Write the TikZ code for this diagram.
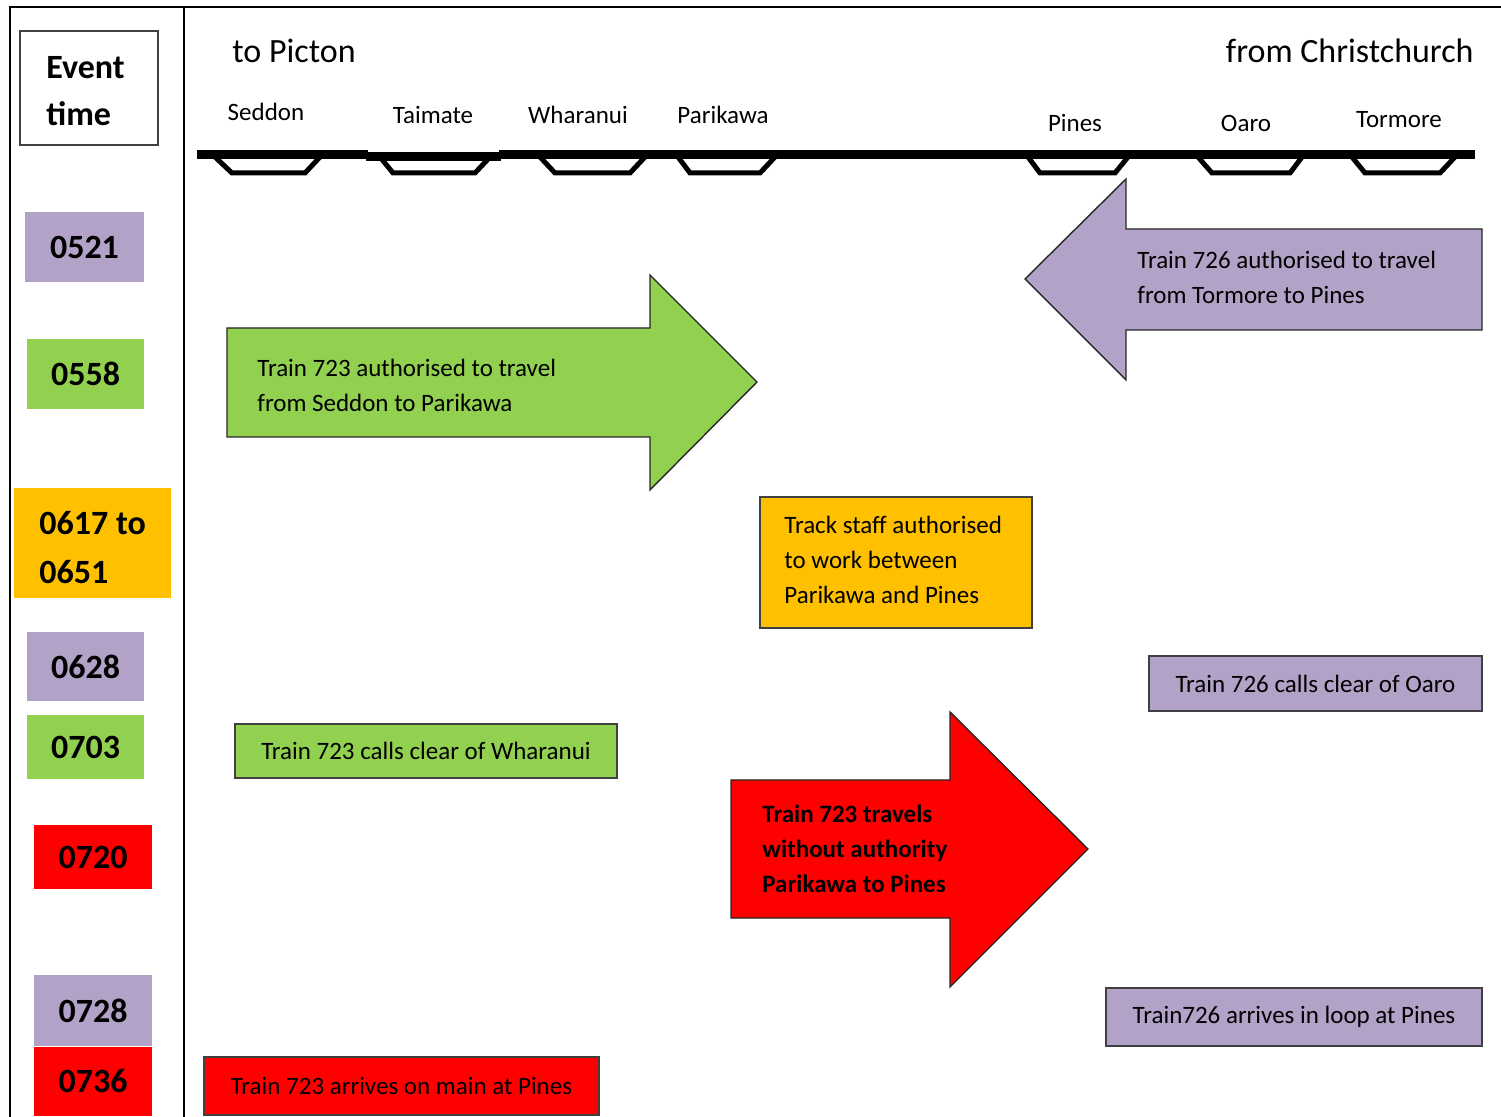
\documentclass[tikz,border=0pt]{standalone}
\usepackage{fontspec}
\setmainfont{Carlito}
\usetikzlibrary{positioning}
\definecolor{lav}{HTML}{B3A2C7}
\definecolor{grn}{HTML}{92D050}
\definecolor{amb}{HTML}{FFC000}
\definecolor{rd}{HTML}{FF0000}
\begin{document}
\begin{tikzpicture}[x=0.5pt, y=-0.5pt,
  tbox/.style = {inner sep=0pt, font=\fontsize{17}{24}\selectfont\bfseries},
  ebox/.style = {draw=black!75, line width=0.7pt, inner sep=0pt, font=\fontsize{12.5}{17.5}\selectfont},
  txt/.style = {anchor=west, align=flush left, inner sep=0pt, font=\fontsize{12.5}{17.5}\selectfont},
  station/.style = {font=\fontsize{12.5}{15}\selectfont, inner sep=0pt},
  arrowshape/.style = {draw=black!85, line width=0.7pt, line join=miter}]
\useasboundingbox (0,0) rectangle (1501,1117);

% frame
\draw[line width=1pt] (10,1117) -- (10,7) -- (1501,7);
\draw[line width=1pt] (184,7) -- (184,1117);

% time column
\node[draw=black!75, line width=0.7pt, minimum width=69pt, minimum height=57pt, inner sep=0pt] (ev) at (89,88) {};
\node[anchor=west, align=flush left, inner sep=0pt, font=\fontsize{17}{23.5}\selectfont\bfseries] (evtxt) at (46,91) {Event\\time};
\node[tbox, fill=lav, minimum width=59.5pt, minimum height=35pt] (t1) at (84.5,247) {0521};
\node[tbox, fill=grn, minimum width=58.5pt, minimum height=35pt] (t2) at (85.5,374) {0558};
\node[tbox, fill=amb, minimum width=78.5pt, minimum height=55pt] (t3) at (92.5,543) {};
\node[anchor=west, align=flush left, inner sep=0pt, font=\fontsize{17}{24.5}\selectfont\bfseries] (t3txt) at (39,548) {0617 to\\0651};
\node[tbox, fill=lav, minimum width=58.5pt, minimum height=34.5pt] (t4) at (85.5,666.5) {0628};
\node[tbox, fill=grn, minimum width=58.5pt, minimum height=31.5pt] (t5) at (85.5,747) {0703};
\node[tbox, fill=rd, minimum width=59pt, minimum height=32pt] (t6) at (93,857) {0720};
\node[tbox, fill=lav, minimum width=59pt, minimum height=35.5pt] (t7) at (93,1010.5) {0728};
\node[tbox, fill=rd, minimum width=59pt, minimum height=34.5pt, below=0pt of t7] (t8) {0736};

% heading
\node[anchor=west, inner sep=0pt, font=\fontsize{17}{20}\selectfont] (picton) at (232,51) {to Picton};
\node[anchor=east, inner sep=0pt, font=\fontsize{17}{20}\selectfont] (chch) at (1474,51) {from Christchurch};

% stations
\node[station] (s1) at (266,112) {Seddon};
\node[station] (s2) at (433,115) {Taimate};
\node[station] (s3) at (578,115) {Wharanui};
\node[station] (s4) at (723,115) {Parikawa};
\node[station] (s5) at (1075,123) {Pines};
\node[station] (s6) at (1246,123) {Oaro};
\node[station] (s7) at (1399,120) {Tormore};

% track
\draw[line width=4.5pt] (197,154.5) -- (368,154.5);
\draw[line width=4.5pt] (366,156.5) -- (501,156.5);
\draw[line width=4.5pt] (499,154.5) -- (1475,154.5);
\foreach \a/\b/\c/\d in {215/232/305/320, 380/393/475/490, 540/555/630/645, 678/690/760/775,
                         1028/1040/1115/1128, 1198/1212/1290/1302, 1352/1365/1440/1455}
  \draw[line width=2.5pt] (\a,157) -- (\b,173) -- (\c,173) -- (\d,157);

% arrows
\draw[arrowshape, fill=lav] (1482,229) -- (1126,229) -- (1126,179) -- (1025,279) -- (1126,380) -- (1126,330) -- (1482,330) -- cycle;
\node[txt] (a1) at (1137,277) {Train 726 authorised to travel\\from Tormore to Pines};

\draw[arrowshape, fill=grn] (227,328) -- (650,328) -- (650,275) -- (757,382) -- (650,490) -- (650,437) -- (227,437) -- cycle;
\node[txt] (a2) at (257,385) {Train 723 authorised to travel\\from Seddon to Parikawa};

\draw[arrowshape, fill=rd] (731,780) -- (950,780) -- (950,712) -- (1088,849) -- (950,987) -- (950,918) -- (731,918) -- cycle;
\node[txt, font=\fontsize{12.5}{17.5}\selectfont\bfseries] (a3) at (762,849) {Train 723 travels\\without authority\\Parikawa to Pines};

% event boxes
\node[ebox, fill=amb, minimum width=136pt, minimum height=65.5pt] (e1) at (896,562.5) {};
\node[txt] (e1txt) at (784,559.5) {Track staff authorised\\to work between\\Parikawa and Pines};
\node[ebox, fill=lav, minimum width=166.5pt, minimum height=27.5pt] (e2) at (1315.5,683.5) {Train 726 calls clear of Oaro};
\node[ebox, fill=grn, minimum width=191pt, minimum height=27pt] (e3) at (426,751) {Train 723 calls clear of Wharanui};
\node[ebox, fill=lav, minimum width=188pt, minimum height=29pt] (e4) at (1294,1017) {Train726 arrives in loop at Pines};
\node[ebox, fill=rd, minimum width=197.5pt, minimum height=29pt] (e5) at (401.5,1086) {Train 723 arrives on main at Pines};
\end{tikzpicture}
\end{document}
